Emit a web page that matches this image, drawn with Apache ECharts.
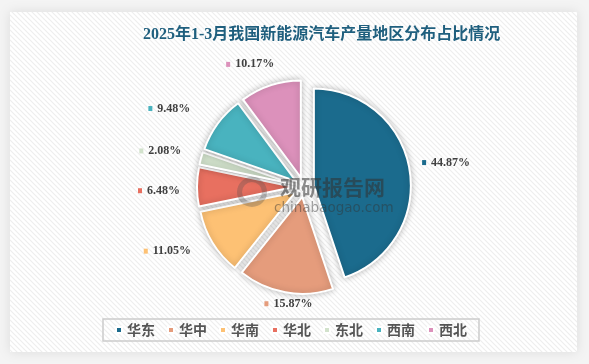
<!DOCTYPE html>
<html>
<head>
<meta charset="utf-8">
<script src="https://cdn.jsdelivr.net/npm/echarts@6/dist/echarts.min.js"></script>
<style>
html,body{margin:0;padding:0;background:#f4f4f4;}
#chart{width:589px;height:364px;}
</style>
</head>
<body>
<div id="chart"></div>
<script>
const titleText = '2025年1-3月我国新能源汽车产量地区分布占比情况';
const categories = ['华东', '华中', '华南', '华北', '东北', '西南', '西北'];
const shares = [44.87, 15.87, 11.05, 6.48, 2.08, 9.48, 10.17];
const colors = ['#1b6b8d', '#e59c7c', '#fdc174', '#e87060', '#d2e2cc', '#49b3bf', '#dc91bb'];
// label nudges (style only) to mimic the original label placement
const labelNudges = [[-2, -1], [10, -27], [-12, -12], [1, 4], [-3, 3], [-17, 8], [-8, 16]];

// hatch pattern for the panel
const pat = document.createElement('canvas');
pat.width = 5; pat.height = 5;
const pctx = pat.getContext('2d');
pctx.fillStyle = '#ffffff';
pctx.fillRect(0, 0, 5, 5);
pctx.strokeStyle = '#eeeeee';
pctx.lineWidth = 1.2;
pctx.beginPath();
pctx.moveTo(-1, -1); pctx.lineTo(6, 6);
pctx.moveTo(-1, 4); pctx.lineTo(1, 6);
pctx.moveTo(4, -1); pctx.lineTo(6, 1);
pctx.stroke();

const chart = echarts.init(document.getElementById('chart'), null, {renderer: 'canvas'});

const mainData = categories.map((c, i) => ({
  name: c, value: shares[i], selected: true,
  itemStyle: {color: colors[i]}
}));
const labelData = categories.map((c, i) => ({
  name: c, value: shares[i],
  label: {offset: labelNudges[i], rich: {m: {backgroundColor: colors[i], width: 4, height: 5}}}
}));

chart.setOption({
  backgroundColor: '#f4f4f4',
  animation: false,
  color: colors,
  graphic: [
    {type: 'rect', z: -10, shape: {x: 10, y: 12, width: 567, height: 340},
     style: {fill: {image: pat, repeat: 'repeat'}, shadowBlur: 12, shadowColor: 'rgba(0,0,0,0.10)'}},
    {type: 'text', z: 100, left: 280, top: 177, silent: true,
     style: {text: '观研报告网', font: 'bold 21px "Noto Sans CJK SC"', fill: 'rgba(50,50,50,0.55)'}},
    {type: 'text', z: 100, left: 274, top: 201, silent: true,
     style: {text: 'chinabaogao.com', font: '13.5px "DejaVu Sans"', fill: 'rgba(50,50,50,0.45)'}},
    {type: 'ring', z: 100, silent: true, shape: {cx: 252, cy: 192, r: 15, r0: 10},
     style: {fill: 'rgba(80,80,80,0.30)'}}
  ],
  title: {
    text: titleText,
    left: 138, top: 22,
    textStyle: {fontFamily: '"Liberation Serif", "Noto Sans CJK SC"', fontSize: 16, fontWeight: 'bold', color: '#1f5f7e'}
  },
  legend: {
    data: categories,
    left: 103, top: 319,
    orient: 'horizontal',
    itemWidth: 6, itemHeight: 6, itemGap: 12,
    icon: 'rect',
    padding: [4, 12],
    borderColor: '#cccccc', borderWidth: 1.5,
    selectedMode: false,
    textStyle: {fontFamily: '"Noto Sans CJK SC"', fontSize: 14, fontWeight: 'bold', color: '#555555'}
  },
  series: [
    {
      type: 'pie',
      name: 'main',
      center: [304, 187],
      radius: [0, 97],
      startAngle: 90,
      clockwise: true,
      selectedMode: 'multiple',
      selectedOffset: 10,
      avoidLabelOverlap: false,
      label: {show: false},
      labelLine: {show: false},
      itemStyle: {borderColor: '#ffffff', borderWidth: 2, shadowBlur: 6, shadowColor: 'rgba(0,0,0,0.25)'},
      emphasis: {disabled: true},
      data: mainData
    },
    {
      type: 'pie',
      name: 'labels',
      center: [304, 187],
      radius: [110, 176],
      startAngle: 90,
      clockwise: true,
      silent: true,
      avoidLabelOverlap: false,
      itemStyle: {color: 'rgba(0,0,0,0)'},
      emphasis: {disabled: true},
      labelLine: {show: false},
      label: {
        show: true, position: 'inside', rotate: 0,
        formatter: p => '{m|}{t|' + p.value.toFixed(2) + '%}',
        rich: {
          t: {fontFamily: '"Liberation Serif"', fontSize: 12, fontWeight: 'bold', color: '#404040', padding: [0, 0, 0, 5]}
        }
      },
      data: labelData
    }
  ]
});
</script>
</body>
</html>
